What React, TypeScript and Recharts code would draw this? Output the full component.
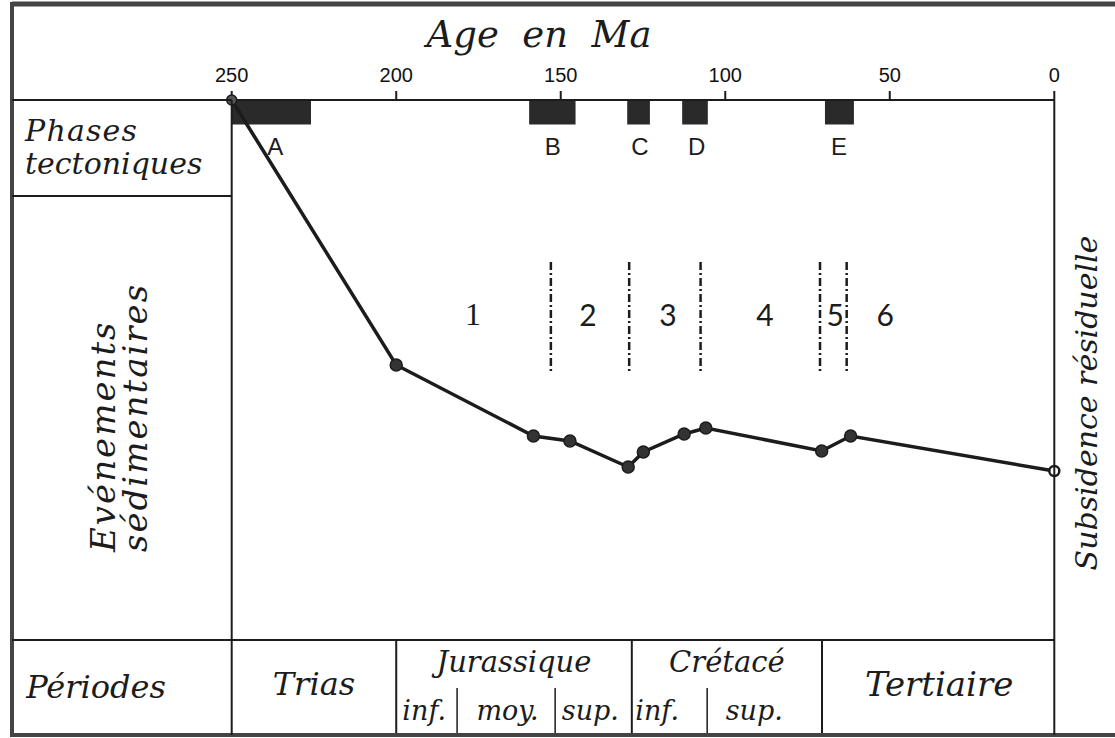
import React from 'react';
import {
  ComposedChart,
  Line,
  XAxis,
  YAxis,
  ReferenceArea,
  ReferenceLine,
  ReferenceDot,
} from 'recharts';

// ---------- data ----------
const ages = [250, 200, 158.3, 147.2, 129.5, 124.9, 112.5, 105.9, 70.7, 61.9, 0];
const subsidence = [0, 2.65, 3.36, 3.41, 3.67, 3.52, 3.34, 3.28, 3.51, 3.36, 3.71];
const ageTicks = [250, 200, 150, 100, 50, 0];

const phaseLabels = ['A', 'B', 'C', 'D', 'E'];
const phaseStart = [250, 159.6, 129.8, 113.1, 69.7];
const phaseEnd = [225.9, 145.5, 122.9, 105.3, 60.9];
const phaseLabelAge = [236.8, 152.4, 125.9, 108.7, 65.4];

const eventBounds = [153.0, 129.2, 107.5, 71.2, 63.1];
const eventLabels = ['1', '2', '3', '4', '5', '6'];
const eventLabelAge = [176.7, 141.7, 117.4, 87.9, 66.6, 51.4];

const periodNames = ['Trias', 'Jurassique', 'Crétacé', 'Tertiaire'];
const periodBounds = [200, 128.4, 70.6];
const periodLabelAge = [225, 164.2, 99.5, 35];
const twoLinePeriod = [false, true, true, false];
const subNames = ['inf.', 'moy.', 'sup.', 'inf.', 'sup.'];
const subBounds = [181.5, 151.7, 105.5];
const subLabelAge = [191.5, 166.2, 141.0, 120.7, 91.2];

// ---------- layout ----------
const W = 1115;
const H = 738;
const PLOT_L = 231.7;
const PLOT_R = 1054.3;
const PLOT_T = 100;
const PLOT_B = 640;
const X_AXIS_H = 30;
const Y_MAX = 5.4;
const ROW_TOP = 5.4;
const ROW_BOT = 6.35;
const SUB_TOP = 5.88;
const INK = '#1c1c1c';
const SERIF = "'DejaVu Serif', serif";
const SANS = "'Liberation Sans', Arial, sans-serif";

const lineData = ages.map((a, i) => ({ age: a, subs: subsidence[i] }));

const renderDot = (props: any) => {
  const { cx, cy, index } = props;
  const last = index === ages.length - 1;
  const first = index === 0;
  return (
    <circle
      key={`dot-${index}`}
      cx={cx}
      cy={cy}
      r={last || first ? 5 : 6}
      fill={last ? '#ffffff' : first ? '#555' : '#333'}
      stroke={INK}
      strokeWidth={last ? 2.5 : 1.5}
    />
  );
};

const textShape = (text: string, style: any) => (p: any) => (
  <text
    x={p.cx}
    y={p.cy}
    textAnchor="middle"
    dominantBaseline="central"
    fill={INK}
    {...style}
  >
    {text}
  </text>
);

const serifItalic = (size: number) => ({ fontFamily: SERIF, fontStyle: 'italic', fontSize: size });

export default function App() {
  return (
    <div style={{ position: 'absolute', left: 0, top: 0, width: W, height: H, background: '#fff' }}>
      <div style={{ position: 'absolute', left: 0, top: 0 }}>
        <ComposedChart
          width={W}
          height={H}
          data={lineData}
          margin={{ top: PLOT_T - X_AXIS_H, left: PLOT_L, right: W - PLOT_R, bottom: H - PLOT_B }}
        >
          <XAxis
            dataKey="age"
            type="number"
            domain={[0, 250]}
            reversed
            ticks={ageTicks}
            interval={0}
            orientation="top"
            height={X_AXIS_H}
            tickSize={9}
            tickMargin={9}
            axisLine={{ stroke: INK, strokeWidth: 2 }}
            tickLine={{ stroke: INK, strokeWidth: 2 }}
            tick={{ fontFamily: SANS, fontSize: 20, fill: '#111' }}
          />
          <YAxis type="number" domain={[0, Y_MAX]} reversed hide />

          {phaseStart.map((s, i) => (
            <ReferenceArea
              key={`ph-${i}`}
              x1={s}
              x2={phaseEnd[i]}
              y1={0}
              y2={0.245}
              fill="#2a2a2a"
              fillOpacity={1}
              stroke="none"
              ifOverflow="visible"
            />
          ))}
          {phaseLabels.map((l, i) => (
            <ReferenceDot
              key={`phl-${i}`}
              x={phaseLabelAge[i]}
              y={0.46}
              r={0}
              ifOverflow="visible"
              shape={textShape(l, { fontFamily: SANS, fontSize: 24 })}
            />
          ))}

          {eventBounds.map((b, i) => (
            <ReferenceLine
              key={`ev-${i}`}
              segment={[{ x: b, y: 1.62 }, { x: b, y: 2.73 }]}
              stroke={INK}
              strokeWidth={2.5}
              strokeDasharray="8 3 2 3"
              ifOverflow="visible"
            />
          ))}
          {eventLabels.map((l, i) => (
            <ReferenceDot
              key={`evl-${i}`}
              x={eventLabelAge[i]}
              y={2.14}
              r={0}
              ifOverflow="visible"
              shape={textShape(
                l,
                i === 0
                  ? { fontFamily: "'Liberation Serif', serif", fontSize: 32 }
                  : { fontFamily: 'Lato, sans-serif', fontWeight: 400, fontSize: 30 }
              )}
            />
          ))}

          {periodBounds.map((b, i) => (
            <ReferenceLine
              key={`pb-${i}`}
              segment={[{ x: b, y: ROW_TOP }, { x: b, y: ROW_BOT }]}
              stroke={INK}
              strokeWidth={2}
              ifOverflow="visible"
            />
          ))}
          {subBounds.map((b, i) => (
            <ReferenceLine
              key={`sb-${i}`}
              segment={[{ x: b, y: SUB_TOP }, { x: b, y: ROW_BOT }]}
              stroke={INK}
              strokeWidth={1.5}
              ifOverflow="visible"
            />
          ))}
          {periodNames.map((n, i) => (
            <ReferenceDot
              key={`pn-${i}`}
              x={periodLabelAge[i]}
              y={twoLinePeriod[i] ? 5.62 : 5.84}
              r={0}
              ifOverflow="visible"
              shape={textShape(n, serifItalic(twoLinePeriod[i] ? 29 : i === 3 ? 34 : 32))}
            />
          ))}
          {subNames.map((n, i) => (
            <ReferenceDot
              key={`sn-${i}`}
              x={subLabelAge[i]}
              y={6.1}
              r={0}
              ifOverflow="visible"
              shape={textShape(n, serifItalic(27))}
            />
          ))}

          <Line
            dataKey="subs"
            type="linear"
            stroke={INK}
            strokeWidth={3.5}
            dot={renderDot}
            activeDot={false}
            isAnimationActive={false}
          />
        </ComposedChart>
      </div>

      <svg
        width={W}
        height={H}
        style={{ position: 'absolute', left: 0, top: 0, pointerEvents: 'none' }}
      >
        {/* outer frame */}
        <line x1={12} y1={4} x2={W} y2={4} stroke="#444" strokeWidth={5} />
        <line x1={12} y1={2} x2={12} y2={737} stroke="#444" strokeWidth={4} />
        <line x1={12} y1={735} x2={W} y2={735} stroke="#444" strokeWidth={4} />
        {/* table lines */}
        <line x1={12} y1={PLOT_T} x2={PLOT_L} y2={PLOT_T} stroke={INK} strokeWidth={2} />
        <line x1={12} y1={196} x2={PLOT_L} y2={196} stroke={INK} strokeWidth={2} />
        <line x1={12} y1={PLOT_B} x2={PLOT_R} y2={PLOT_B} stroke={INK} strokeWidth={2} />
        <line x1={PLOT_L} y1={PLOT_T} x2={PLOT_L} y2={735} stroke={INK} strokeWidth={2} />
        <line x1={PLOT_R} y1={PLOT_T} x2={PLOT_R} y2={735} stroke={INK} strokeWidth={2} />

        {/* titles */}
        <text x={539} y={47} textAnchor="middle" fontFamily={SERIF} fontStyle="italic" fontSize={37} fill={INK} style={{ whiteSpace: 'pre' }}>
          {'Age  en  Ma'}
        </text>
        <text x={25} y={141} fontFamily={SERIF} fontStyle="italic" fontSize={30} letterSpacing={1.2} fill={INK}>Phases</text>
        <text x={25} y={174} fontFamily={SERIF} fontStyle="italic" fontSize={30} fill={INK}>tectoniques</text>
        <g transform="translate(115,552) rotate(-90)">
          <text x={0} y={0} fontFamily={SERIF} fontStyle="italic" fontSize={34} letterSpacing={2} fill={INK}>Evénements</text>
          <text x={0} y={32} fontFamily={SERIF} fontStyle="italic" fontSize={34} letterSpacing={2} fill={INK}>sédimentaires</text>
        </g>
        <text x={96} y={698} textAnchor="middle" fontFamily={SERIF} fontStyle="italic" fontSize={32} fill={INK}>Périodes</text>
        <g transform="translate(1097,403) rotate(-90)">
          <text x={0} y={0} textAnchor="middle" fontFamily={SERIF} fontStyle="italic" fontSize={30} fill={INK}>Subsidence résiduelle</text>
        </g>
      </svg>
    </div>
  );
}
